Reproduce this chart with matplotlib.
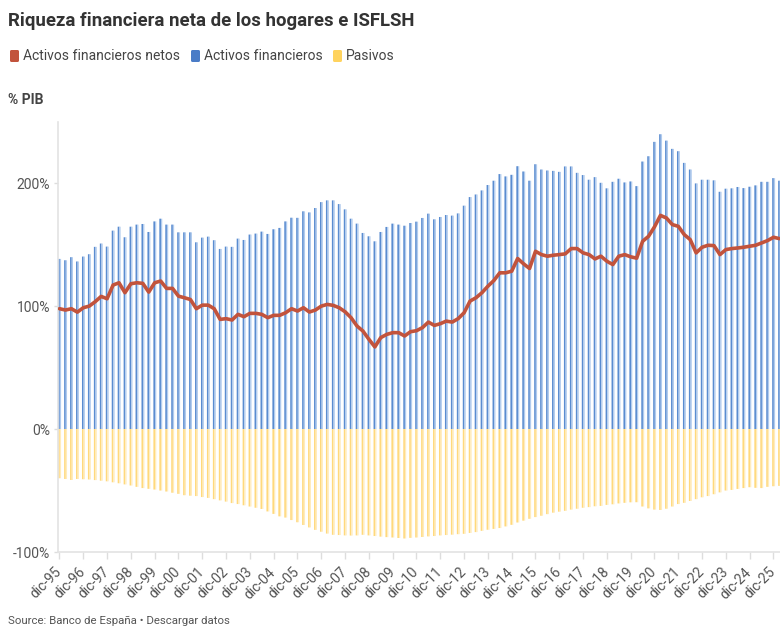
import matplotlib
matplotlib.use("Agg")
import matplotlib.pyplot as plt
from matplotlib.patches import FancyBboxPatch
import numpy as np

plt.rcParams['font.family'] = ['Roboto', 'DejaVu Sans']

# ---------------- data (quarterly, dic-95 onwards, % PIB) ----------------
activos = [138.4, 137.3, 139.8, 136.3, 140.3, 142.2, 148.2, 150.9, 148.4, 161.4,
           164.6, 156.0, 164.6, 166.3, 166.8, 160.3, 168.9, 171.1, 166.3, 166.3,
           160.0, 160.0, 160.0, 151.9, 155.7, 156.5, 153.6, 146.5, 148.4, 148.2,
           154.9, 153.8, 158.2, 159.0, 160.6, 158.7, 162.5, 163.6, 168.9, 171.9,
           171.8, 177.1, 176.2, 179.8, 184.6, 186.0, 186.0, 183.0, 178.7, 171.1,
           167.1, 159.5, 156.8, 152.7, 160.3, 164.4, 167.1, 166.3, 165.4, 167.6,
           168.7, 171.7, 175.2, 170.6, 172.5, 174.1, 173.6, 175.4, 181.7, 188.7,
           190.8, 194.1, 198.5, 202.0, 207.4, 205.5, 206.8, 213.8, 209.5, 202.0,
           215.4, 211.1, 210.3, 210.0, 209.2, 213.6, 213.6, 208.4, 206.6, 202.8,
           204.9, 200.3, 195.8, 201.1, 203.6, 200.6, 201.4, 197.6, 217.6, 221.9,
           233.6, 239.8, 234.6, 227.9, 226.0, 216.5, 211.1, 199.8, 202.8, 202.8,
           202.3, 193.0, 195.5, 195.8, 196.9, 196.0, 197.1, 198.2, 201.1, 201.1,
           204.1, 202.0]

pasivos = [-40.0, -40.6, -41.4, -40.6, -40.8, -41.0, -41.5, -42.0, -42.5, -43.3,
           -44.1, -45.0, -45.9, -47.0, -48.0, -48.6, -49.2, -50.0, -50.8, -51.8,
           -52.7, -53.8, -54.2, -54.5, -55.3, -56.0, -57.0, -58.0, -59.0, -60.2,
           -61.0, -62.0, -63.0, -64.0, -65.0, -67.0, -69.0, -71.0, -72.0, -74.0,
           -75.8, -78.0, -80.0, -82.0, -83.5, -85.0, -86.0, -86.2, -86.5, -86.6,
           -86.5, -86.0, -86.5, -87.0, -87.5, -87.9, -88.2, -88.6, -89.0, -88.5,
           -88.2, -87.8, -87.3, -87.0, -86.5, -86.2, -85.9, -85.5, -85.2, -84.5,
           -83.8, -82.8, -81.9, -81.2, -80.5, -79.2, -77.9, -76.0, -74.5, -73.0,
           -71.6, -70.5, -69.2, -68.0, -67.2, -66.5, -65.5, -64.8, -64.0, -63.5,
           -62.8, -62.5, -61.7, -61.2, -60.5, -60.0, -59.6, -59.5, -63.0, -64.5,
           -65.5, -65.8, -64.8, -63.0, -61.0, -60.0, -58.5, -57.0, -55.5, -54.5,
           -53.0, -51.5, -50.0, -49.5, -48.7, -48.0, -47.3, -47.8, -48.0, -47.0,
           -46.5, -46.2]

netos = [97.9, 96.8, 97.9, 95.1, 98.7, 100.0, 103.6, 107.9, 106.0, 117.1,
         119.0, 110.9, 118.2, 119.0, 118.5, 111.4, 119.0, 120.4, 114.4, 114.4,
         108.1, 106.8, 105.4, 97.9, 100.8, 100.8, 97.9, 89.2, 89.8, 88.7,
         93.3, 91.4, 94.1, 94.1, 93.3, 90.6, 92.5, 92.5, 94.6, 97.9,
         96.0, 98.7, 95.2, 96.8, 100.0, 101.4, 100.6, 98.7, 95.4, 90.6,
         83.8, 79.7, 73.0, 66.8, 74.4, 77.0, 78.4, 78.4, 75.7, 79.2,
         80.0, 82.5, 87.0, 84.3, 85.7, 87.8, 87.0, 89.8, 94.6, 104.1,
         106.8, 110.9, 116.2, 120.8, 127.1, 127.1, 128.4, 138.7, 134.4, 130.6,
         144.6, 141.9, 140.6, 141.4, 141.9, 142.5, 146.8, 146.8, 143.3, 141.9,
         138.4, 140.6, 136.5, 133.8, 140.6, 141.9, 140.1, 139.0, 152.7, 156.8,
         164.5, 173.8, 171.7, 166.3, 164.9, 158.2, 154.1, 143.3, 147.9, 149.5,
         149.2, 141.9, 146.0, 146.8, 147.3, 147.9, 148.7, 149.5, 151.4, 153.3,
         156.0, 154.9]

tick_labels = ["dic-%02d" % (y % 100) for y in range(1995, 2026)]
y_ticks = [-100, 0, 100, 200]
y_tick_labels = ["-100%", "0%", "100%", "200%"]

# ---------------- figure ----------------
W, H = 780, 628
fig = plt.figure(figsize=(W / 100, H / 100), dpi=100)

def fx(px):
    return px / W

def fy(py):
    return 1 - py / H

ax_left, ax_right, ax_top, ax_bottom = 58.3, 780.0, 121.7, 552.0
ax = fig.add_axes([fx(ax_left), fy(ax_bottom), fx(ax_right - ax_left), (ax_bottom - ax_top) / H])

n = len(activos)
x = np.arange(n)

blue_dark, blue_light = "#5a8cd0", "#b2ccee"
yel_dark, yel_light = "#ffd97c", "#ffecbd"
red = "#c2533c"

for vals, dark, light in [(activos, blue_dark, blue_light), (pasivos, yel_dark, yel_light)]:
    b1 = ax.bar(x - 0.08, vals, width=0.28, color=dark, linewidth=0, zorder=2)
    b2 = ax.bar(x + 0.16, vals, width=0.22, color=light, linewidth=0, zorder=2)
    for r in list(b1) + list(b2):
        r.set_snap(False)

ax.plot(x, netos, color=red, linewidth=2.6, solid_joinstyle="round",
        solid_capstyle="round", zorder=4)

ax.set_xlim(-0.2, (ax_right - 59.5) / 5.95)
ax.set_ylim(-100, 250)

for s in ["top", "right"]:
    ax.spines[s].set_visible(False)
for s in ["left", "bottom"]:
    ax.spines[s].set_color("#e3e3e3")
    ax.spines[s].set_linewidth(1.2)

ax.set_yticks(y_ticks)
ax.set_yticklabels(y_tick_labels)
ax.tick_params(axis="y", length=3, width=1, color="#dddddd", labelsize=10,
               labelcolor="#555555", pad=3)

ax.set_xticks(x[::4][:len(tick_labels)])
ax.set_xticklabels(tick_labels, rotation=45, ha="right", va="center",
                   rotation_mode="anchor")
ax.tick_params(axis="x", length=5, width=1, color="#dddddd", labelsize=10,
               labelcolor="#555555", pad=8)

# ---------------- texts ----------------
fig.text(fx(8), fy(12), "Riqueza financiera neta de los hogares e ISFLSH",
         fontsize=13.4, fontweight="bold", color="#333333", va="top", ha="left")

legend_items = [("Activos financieros netos", red, 10),
                ("Activos financieros", "#4a7cc7", 191),
                ("Pasivos", "#ffd35e", 333)]
for label, col, px in legend_items:
    patch = FancyBboxPatch((px / 100, (H - 62) / 100), 0.09, 0.12,
                           boxstyle="round,pad=0,rounding_size=0.015",
                           transform=fig.dpi_scale_trans, facecolor=col,
                           edgecolor="none")
    fig.patches.append(patch)
    fig.text(fx(px + 13), fy(56), label, fontsize=10, color="#444444",
             va="center", ha="left")

fig.text(fx(8), fy(100), "% PIB", fontsize=10, fontweight="bold",
         color="#444444", va="center", ha="left")

fig.text(fx(8), fy(621), "Source: Banco de España \u2022 Descargar datos",
         fontsize=8.2, color="#555555", va="center", ha="left")

fig.savefig("out.png", dpi=100)
